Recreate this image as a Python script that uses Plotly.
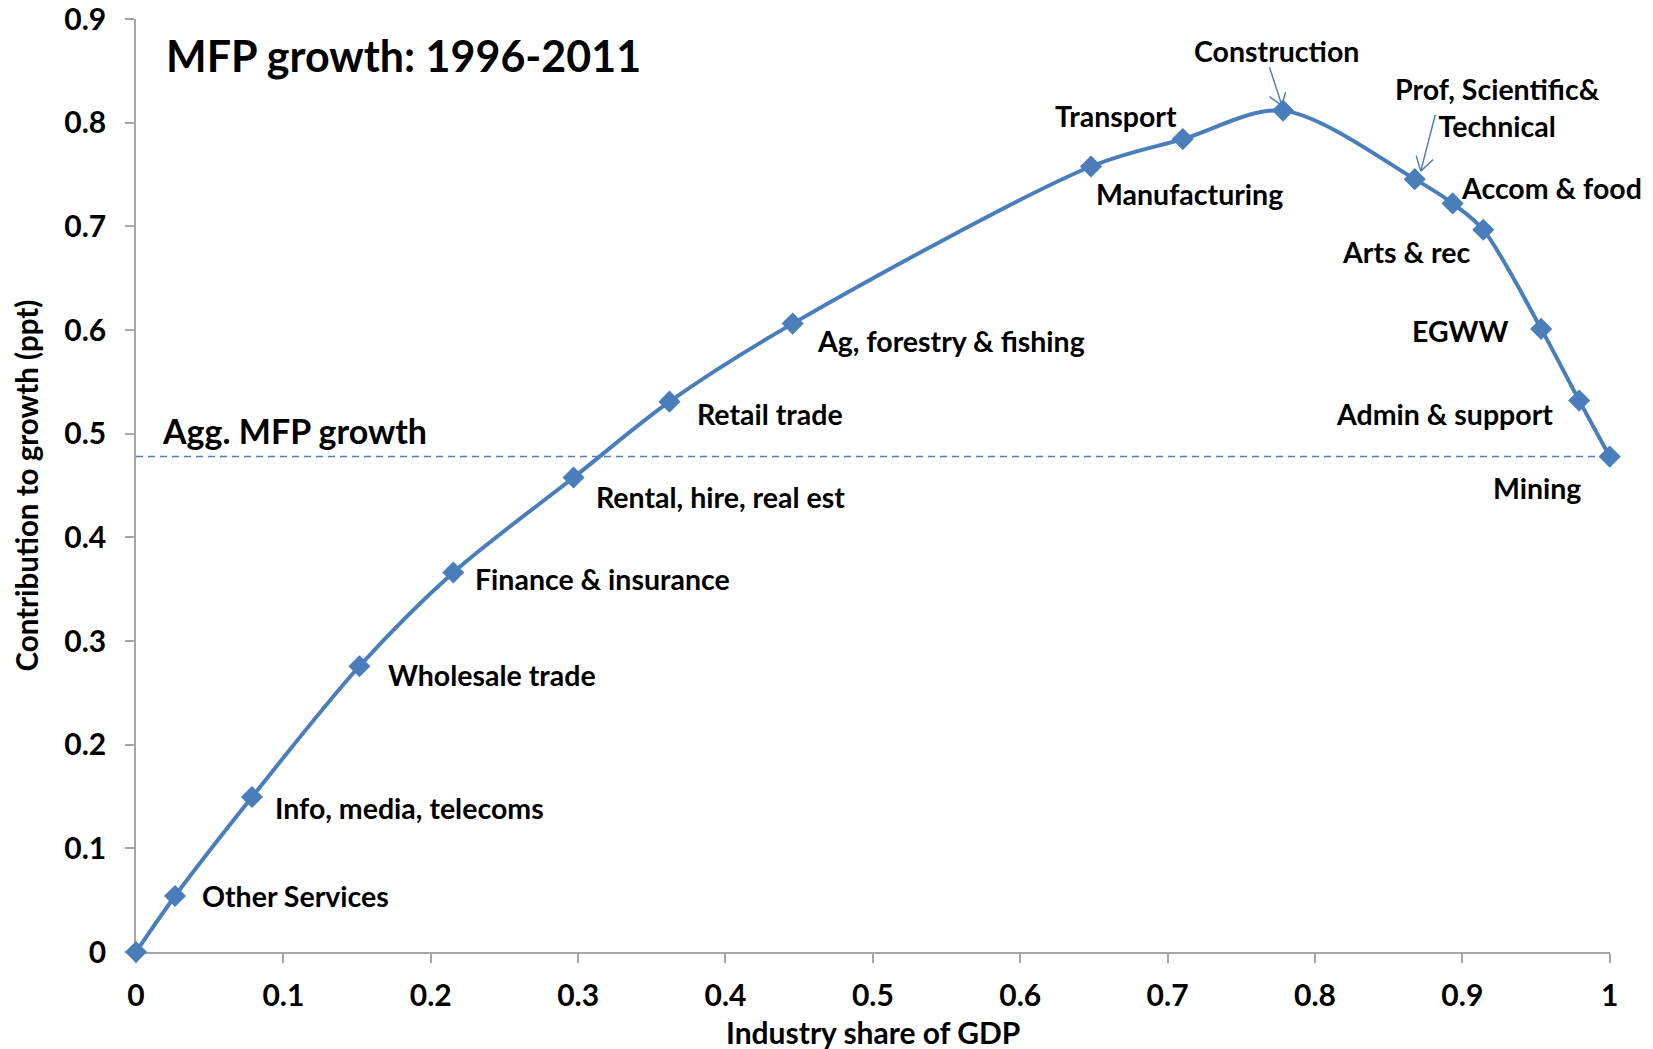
import plotly.graph_objects as go

# Cumulative industry share of GDP (x) vs cumulative contribution to MFP growth (y)
industries = [
    "", "Other Services", "Info, media, telecoms", "Wholesale trade",
    "Finance & insurance", "Rental, hire, real est", "Retail trade",
    "Ag, forestry & fishing", "Manufacturing", "Transport", "Construction",
    "Prof, Scientific&<br>Technical", "Accom & food", "Arts & rec", "EGWW",
    "Admin & support", "Mining",
]
gdp_share = [0.0, 0.0265, 0.0787, 0.1516, 0.2153, 0.2969, 0.362, 0.4456,
             0.648, 0.7103, 0.7783, 0.8677, 0.8934, 0.9142, 0.9535, 0.9793, 1.0]
contribution = [0.0, 0.054, 0.1495, 0.2757, 0.3662, 0.4578, 0.531, 0.6063,
                0.7579, 0.7843, 0.8118, 0.7457, 0.7223, 0.6968, 0.6012, 0.532, 0.478]
agg_mfp_growth = 0.478

x_ticks = [0, 0.1, 0.2, 0.3, 0.4, 0.5, 0.6, 0.7, 0.8, 0.9, 1.0]
x_tick_text = ["0", "0.1", "0.2", "0.3", "0.4", "0.5", "0.6", "0.7", "0.8", "0.9", "1"]
y_ticks = [0, 0.1, 0.2, 0.3, 0.4, 0.5, 0.6, 0.7, 0.8, 0.9]
y_tick_text = ["0", "0.1", "0.2", "0.3", "0.4", "0.5", "0.6", "0.7", "0.8", "0.9"]

BLUE = "#4A7EBB"
AXIS = "#A6A6A6"
FONT = "Lato"
LABEL_SIZE = 28.5


def bold(size):
    return dict(family=FONT, size=size, color="#000000", weight="bold")


# label placement per point: (xanchor, xshift, yshift)
label_pos = [
    None,
    ("left", 25, 0),
    ("left", 21, -11),
    ("left", 27, -9),
    ("left", 20, -7),
    ("left", 20, -19),
    ("left", 26, -12),
    ("left", 22, -17),
    ("left", 3, -28),
    ("right", -4, 23),
    None,
    None,
    ("left", 6, 15),
    ("right", -11, -22),
    ("right", -31, -2),
    ("right", -24, -13),
    ("right", -27, -31),
]

fig = go.Figure()

# aggregate MFP growth reference line
fig.add_trace(go.Scatter(
    x=[x_ticks[0], x_ticks[-1]], y=[agg_mfp_growth, agg_mfp_growth],
    mode="lines", line=dict(color=BLUE, width=1.5, dash="7px,5px"),
    hoverinfo="skip", showlegend=False,
))

fig.add_trace(go.Scatter(
    x=gdp_share, y=contribution, mode="lines+markers",
    line=dict(color=BLUE, width=4, shape="spline", smoothing=0.9),
    marker=dict(symbol="diamond", size=17, color=BLUE),
    cliponaxis=False, showlegend=False, text=industries,
))

annotations = []
for i, pos in enumerate(label_pos):
    if pos is None:
        continue
    xa, xs, ys = pos
    annotations.append(dict(
        x=gdp_share[i], y=contribution[i], xref="x", yref="y",
        text=industries[i], showarrow=False, xanchor=xa, yanchor="middle",
        xshift=xs, yshift=ys, font=bold(LABEL_SIZE),
    ))


def pointer(i, head_dx, head_dy, tail, wings):
    """Thin pointer with an open V head aimed at point i (pixel offsets)."""
    out = []
    for ax, ay in [tail] + wings:
        out.append(dict(
            x=gdp_share[i], y=contribution[i], xref="x", yref="y", text="",
            showarrow=True, arrowhead=0, arrowwidth=1.5, arrowcolor=BLUE,
            ax=ax, ay=ay, xshift=head_dx, yshift=head_dy, standoff=0,
        ))
    return out


# Construction: label with pointer
annotations += pointer(10, -1, 5, (-13, -40), [(-14, -10), (4, -15)])
annotations.append(dict(
    x=gdp_share[10], y=contribution[10], xref="x", yref="y",
    text=industries[10], showarrow=False, xanchor="center", yanchor="middle",
    xshift=-6, yshift=60, font=bold(LABEL_SIZE),
))

# Prof, Scientific & Technical: label with pointer
annotations += pointer(11, 6, 8, (15, -58), [(-5, -17), (14, -13)])
annotations.append(dict(
    x=gdp_share[11], y=contribution[11], xref="x", yref="y",
    text=industries[11], showarrow=False, xanchor="center", yanchor="middle",
    align="center", xshift=83, yshift=72, font=bold(LABEL_SIZE),
))

# chart title and reference line label
annotations.append(dict(
    x=0.0193, y=0.865, xref="x", yref="y", text="MFP growth: 1996-2011",
    showarrow=False, xanchor="left", yanchor="middle", font=bold(43),
))
annotations.append(dict(
    x=0.0165, y=0.5035, xref="x", yref="y", text="Agg. MFP growth",
    showarrow=False, xanchor="left", yanchor="middle", font=bold(34),
))

# axis titles
annotations.append(dict(
    x=0.5, y=0, xref="paper", yref="paper", text="Industry share of GDP",
    showarrow=False, xanchor="center", yanchor="middle", yshift=-80,
    font=bold(30),
))
annotations.append(dict(
    x=0, y=0.5, xref="paper", yref="paper", text="Contribution to growth (ppt)",
    showarrow=False, xanchor="center", yanchor="middle", xshift=-110,
    textangle=-90, font=bold(29.5),
))

axis_common = dict(
    showgrid=False, zeroline=False, showline=True, linecolor=AXIS, linewidth=1.5,
    ticks="outside", ticklen=9, tickcolor=AXIS, tickwidth=1.5,
    tickfont=bold(30), automargin=False, layer="below traces",
    ticklabeloverflow="allow",
)

fig.update_layout(
    width=1653, height=1049,
    margin=dict(l=136, r=43, t=19, b=97),
    paper_bgcolor="white", plot_bgcolor="white",
    xaxis=dict(range=[0, 1.0002], tickvals=x_ticks, ticktext=x_tick_text,
               ticklabelstandoff=7, **axis_common),
    yaxis=dict(range=[0, 0.9002], tickvals=y_ticks, ticktext=y_tick_text,
               ticklabelstandoff=13, **axis_common),
    annotations=annotations,
    showlegend=False,
)

fig.write_html("out.html")
